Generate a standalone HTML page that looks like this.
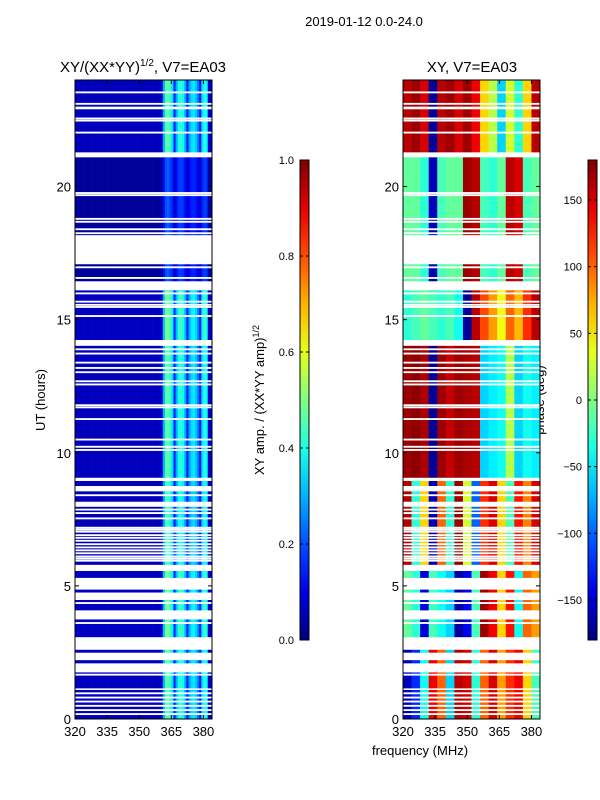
<!DOCTYPE html>
<html><head><meta charset="utf-8"><style>
body{margin:0;background:#fff;}
svg{display:block;font-family:"Liberation Sans",sans-serif;}
</style></head><body>
<svg id="fig" width="600" height="800" xmlns="http://www.w3.org/2000/svg">
<text x="364" y="26" font-size="13" text-anchor="middle">2019-01-12 0.0-24.0</text>
<text x="143" y="72" font-size="15" text-anchor="middle">XY/(XX*YY)<tspan font-size="10" dy="-6">1/2</tspan><tspan dy="6">, V7=EA03</tspan></text>
<text x="472" y="72" font-size="15" text-anchor="middle">XY, V7=EA03</text>
<text transform="translate(45,400) rotate(-90)" font-size="13" text-anchor="middle">UT (hours)</text>
<text transform="translate(264,400) rotate(-90)" font-size="13" text-anchor="middle">XY amp. / (XX*YY amp)<tspan font-size="9" dy="-5">1/2</tspan></text>
<text transform="translate(544,400) rotate(-90)" font-size="13" text-anchor="middle">phase (deg)</text>
<text x="420" y="755" font-size="13" text-anchor="middle">frequency (MHz)</text>
<g id="left"></g>
<g id="right"></g>
<g id="axes"></g>
</svg>
<script>
// gaps (hours) with no data
const gapStarts=[23.50,23.07,22.90,22.52,22.44,21.99,21.10,19.72,19.64,18.75,18.64,18.36,18.21,17.08,16.93,16.53,16.10,15.95,15.64,15.52,15.44,15.10,14.02,13.85,13.69,13.35,13.15,12.99,12.65,12.53,11.75,11.67,11.23,10.46,10.19,10.07,8.94,8.55,8.37,7.97,7.83,7.70,7.50,7.15,7.08,7.00,6.87,6.77,6.66,6.53,6.41,6.30,6.19,6.07,5.99,5.91,5.56,4.86,4.47,4.32,3.74,3.57,2.60,2.21,1.75,1.63,1.09,0.93,0.77,0.62,0.46,0.30,0.15];
const gapEnds=[23.57,23.14,23.00,22.59,22.51,22.06,21.28,19.79,19.71,18.82,18.71,18.43,18.28,18.17,17.00,16.60,16.44,16.02,15.71,15.59,15.51,15.17,14.23,13.92,13.76,13.42,13.22,13.06,12.72,12.60,11.82,11.74,11.30,10.53,10.26,10.14,9.06,8.75,8.44,8.16,7.90,7.77,7.57,7.22,7.15,7.07,6.94,6.84,6.73,6.60,6.48,6.37,6.26,6.14,6.06,5.98,5.79,5.30,4.75,4.39,4.08,3.64,3.07,2.49,2.09,1.70,1.15,1.00,0.84,0.69,0.53,0.37,0.22];
// amplitude per 1-MHz channel, 320..383
const ampChan=[0.06,0.06,0.06,0.06,0.06,0.06,0.06,0.06,0.06,0.06,0.06,0.06,0.06,0.06,0.06,0.06,0.06,0.06,0.06,0.06,0.06,0.06,0.06,0.06,0.06,0.06,0.06,0.06,0.06,0.06,0.06,0.06,0.06,0.06,0.06,0.06,0.06,0.06,0.06,0.06,0.07,0.30,0.45,0.48,0.42,0.35,0.15,0.30,0.40,0.42,0.38,0.30,0.15,0.28,0.34,0.36,0.32,0.25,0.14,0.35,0.42,0.38,0.08,0.07];
// time blocks (hour boundaries) and amplitude scale
const blockStart=[0,3.07,5.56,8.94,14.23,16.10,18.17,21.28];
const blockEnd=[3.07,5.56,8.94,14.02,16.10,18.17,21.10,24];
const ampScale=[1.0,1.05,0.95,1.0,1.05,0.45,0.45,1.0];
// phase (deg) per 4-MHz bin 320..380 for each block
const phase0=[-160,-120,-40,140,100,-60,160,150,-30,100,150,80,120,140,60,-20];
const phase1=[-10,-30,-150,-20,-40,-60,-170,-140,-20,170,140,60,130,-40,100,80];
const phase2=[160,-30,60,-160,100,-30,170,30,-100,120,150,60,-20,130,90,150];
const phase3=[170,175,165,-170,170,155,170,165,160,-60,-50,-40,20,-60,-40,-50];
const phase4=[-30,-20,-10,-20,-30,-20,-40,-170,160,110,80,40,100,70,120,160];
const phase5=[-10,-10,-30,-160,-20,-10,-10,170,160,-20,-30,-10,160,150,-20,-10];
const phase6=[-10,-10,-30,-160,-20,-10,-10,170,160,-20,-30,-10,160,150,-20,-10];
const phase7=[160,170,150,-170,160,170,150,170,140,60,20,-60,30,-30,60,160];
const phases=[phase0,phase1,phase2,phase3,phase4,phase5,phase6,phase7];
const xTicks=[320,335,350,365,380];
const yTicks=[0,5,10,15,20];
const ampTicks=[0.0,0.2,0.4,0.6,0.8,1.0];
const phTicks=[-150,-100,-50,0,50,100,150];

const NS="http://www.w3.org/2000/svg";
function jet(v){v=Math.max(0,Math.min(1,v));
 const r=Math.max(0,Math.min(1,1.5-Math.abs(4*v-3))),g=Math.max(0,Math.min(1,1.5-Math.abs(4*v-2))),b=Math.max(0,Math.min(1,1.5-Math.abs(4*v-1)));
 return `rgb(${Math.round(r*255)},${Math.round(g*255)},${Math.round(b*255)})`;}
function el(t,a,p){const e=document.createElementNS(NS,t);for(const k in a)e.setAttribute(k,a[k]);p.appendChild(e);return e;}
const Y0=719,Y1=80,FMIN=320,FMAX=384;
const yS=h=>Y0-(h/24)*(Y0-Y1);
function xS(f,x0){return x0+(f-FMIN)/(FMAX-FMIN)*137;}
const L=75,R=403;
const lg=document.getElementById('left'),rg=document.getElementById('right');
for(let b=0;b<blockStart.length;b++){
 const yt=yS(blockEnd[b]),yb=yS(blockStart[b]);
 for(let c=0;c<ampChan.length;c++){
  const f=FMIN+c;
  const r=el('rect',{x:xS(f,L),y:yt,width:137/64+0.3,height:yb-yt,fill:jet(ampChan[c]*ampScale[b])},lg);
  
  
 }
 const ph=phases[b];
 for(let c=0;c<ph.length;c++){
  const f=FMIN+c*4;
  const r=el('rect',{x:xS(f,R),y:yt,width:137/16+0.3,height:yb-yt,fill:jet((ph[c]+180)/360)},rg);
  
  
 }
}
const ax=document.getElementById('axes');
for(let i=0;i<gapStarts.length;i++){
 const yt=yS(gapEnds[i]),yb=yS(gapStarts[i]);
 for(const x0 of [L,R]){
  const g=el('rect',{x:x0,y:yt,width:137,height:Math.max(1.2,yb-yt),fill:'#fff'},ax);
  
  
 }
}
for(const x0 of [L,R]){
 const f=el('rect',{x:x0,y:Y1,width:137,height:Y0-Y1,fill:'none',stroke:'#000','stroke-width':1},ax);
 
 
 for(const t of xTicks){const x=xS(t,x0);
  el('line',{x1:x,x2:x,y1:Y0,y2:Y0-4,stroke:'#000'},ax);el('line',{x1:x,x2:x,y1:Y1,y2:Y1+4,stroke:'#000'},ax);
  const tx=el('text',{x:x,y:Y0+17,'font-size':13,'text-anchor':'middle'},ax);tx.textContent=t;
  
  }
 for(const t of yTicks){const y=yS(t);
  el('line',{x1:x0,x2:x0+4,y1:y,y2:y,stroke:'#000'},ax);el('line',{x1:x0+137,x2:x0+133,y1:y,y2:y,stroke:'#000'},ax);
  const tx=el('text',{x:x0-4,y:y+5,'font-size':13,'text-anchor':'end'},ax);tx.textContent=t;
  
  }
}
// colorbars
const defs=el('defs',{},document.getElementById('fig'));
const gr=el('linearGradient',{id:'jetg',x1:0,y1:1,x2:0,y2:0},defs);
for(let i=0;i<=10;i++)el('stop',{offset:i/10,'stop-color':jet(i/10)},gr);
function cbar(x,ticks,lo,hi,fmt,name){
 const r=el('rect',{x:x,y:160,width:9,height:480,fill:'url(#jetg)',stroke:'#000','stroke-width':1},ax);
 
 
 for(const t of ticks){const y=640-(t-lo)/(hi-lo)*480;
  el('line',{x1:x,x2:x+3,y1:y,y2:y,stroke:'#000'},ax);el('line',{x1:x+9,x2:x+6,y1:y,y2:y,stroke:'#000'},ax);
  const tx=el('text',{x:x-6,y:y+4,'font-size':11,'text-anchor':'end'},ax);tx.textContent=fmt(t);
  
  }
}
cbar(300,ampTicks,0,1,t=>t.toFixed(1),'amp-colorbar');
cbar(588,phTicks,-180,180,t=>t<0?'\u2212'+(-t):String(t),'phase-colorbar');
</script>
</body></html>
